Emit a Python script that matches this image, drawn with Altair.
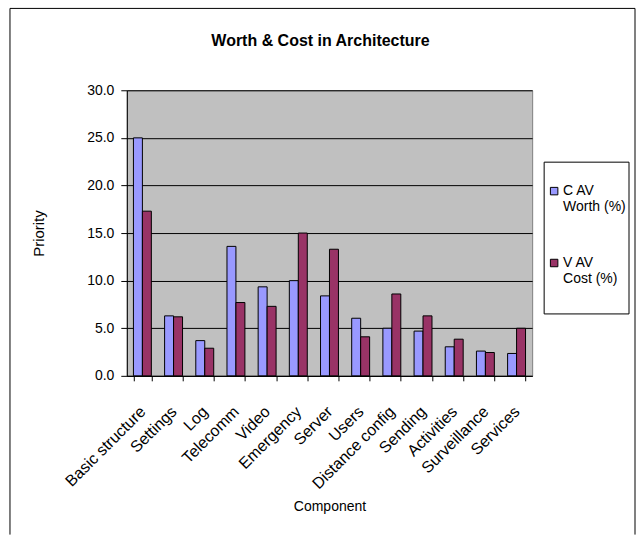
import altair as alt
import pandas as pd

# ---- data ----
components = ["Basic structure", "Settings", "Log", "Telecomm", "Video", "Emergency",
              "Server", "Users", "Distance config", "Sending", "Activities",
              "Surveillance", "Services"]
worth = [25.0, 6.3, 3.7, 13.6, 9.35, 10.0, 8.4, 6.05, 5.0, 4.7, 3.05, 2.6, 2.35]
cost = [17.3, 6.2, 2.9, 7.7, 7.3, 15.0, 13.3, 4.1, 8.6, 6.3, 3.85, 2.45, 5.0]
series = ["C AV|Worth (%)", "V AV|Cost (%)"]
colors = ["#9999FF", "#993366"]
y_ticks = [0, 5, 10, 15, 20, 25, 30]
title_text = "Worth & Cost in Architecture"

rows = []
for c, w, v in zip(components, worth, cost):
    rows.append({"Component": c, "Series": series[0], "Priority": w})
    rows.append({"Component": c, "Series": series[1], "Priority": v})
df = pd.DataFrame(rows)

FONT = "Liberation Sans"
W, H = 406, 286

bars = alt.Chart(df).mark_bar(stroke="black", strokeWidth=1, opacity=1).encode(
    x=alt.X(
        "Component:N", sort=components,
        scale=alt.Scale(paddingInner=0.425, paddingOuter=0.2125),
        axis=alt.Axis(
            title="Component", labelAngle=315, labelAlign="right", labelBaseline="middle",
            labelPadding=28, tickBand="extent", tickSize=5, tickColor="black",
            domainColor="black", labelFontSize=16, titleFontSize=14, titleY=131,
            titleBaseline="middle", grid=False, labelColor="black", titleColor="black",
            titleFontWeight="normal", labelOverlap=False, labelLimit=300,
        ),
    ),
    xOffset=alt.XOffset("Series:N", sort=series,
                        scale=alt.Scale(paddingInner=0, paddingOuter=0)),
    y=alt.Y(
        "Priority:Q",
        scale=alt.Scale(domain=[0, 30], nice=False),
        axis=alt.Axis(
            title="Priority", values=y_ticks, format=".1f", tickSize=6, labelPadding=7,
            labelFontSize=14, titleFontSize=15, titleX=-88, titleY=143,
            titleBaseline="middle", titleFontWeight="normal", domainColor="black",
            tickColor="black", labelColor="black", titleColor="black",
            gridColor="black", gridOpacity=1, gridWidth=1,
        ),
    ),
    color=alt.Color(
        "Series:N", sort=series,
        scale=alt.Scale(domain=series, range=colors),
        legend=alt.Legend(
            title=None, orient="none", legendX=421, legendY=94,
            labelExpr="split(datum.label, '|')", labelFontSize=14,
            symbolType="square", symbolSize=56, symbolStrokeColor="black",
            symbolStrokeWidth=1, symbolOpacity=1, rowPadding=42, labelOffset=2,
            padding=0, labelColor="black",
        ),
    ),
)

one = pd.DataFrame({"t": [title_text]})

legend_box = alt.Chart(one).mark_rect(fill="white", stroke="black", strokeWidth=1).encode(
    x=alt.value(418), x2=alt.value(503), y=alt.value(72), y2=alt.value(224)
)
border_left = alt.Chart(one).mark_rule(color="black", strokeWidth=1).encode(
    x=alt.value(-117), y=alt.value(-82), y2=alt.value(445)
)
border_right = alt.Chart(one).mark_rule(color="black", strokeWidth=1).encode(
    x=alt.value(509), y=alt.value(-82), y2=alt.value(445)
)
border_top = alt.Chart(one).mark_rule(color="black", strokeWidth=1).encode(
    x=alt.value(-117), x2=alt.value(509), y=alt.value(-82)
)
title = alt.Chart(one).mark_text(
    font=FONT, fontSize=16, fontWeight="bold", align="center", baseline="alphabetic",
    color="black",
).encode(text="t:N", x=alt.value(194), y=alt.value(-44))

chart = alt.layer(
    legend_box, bars, border_left, border_right, border_top, title
).properties(
    width=W, height=H,
    padding={"left": 9, "top": 7, "right": 1, "bottom": 0},
).configure(
    font=FONT, background="white",
).configure_view(
    fill="#C0C0C0", stroke="#808080", strokeWidth=1,
)

chart.save("out.html", embed_options={"renderer": "svg", "actions": False})
